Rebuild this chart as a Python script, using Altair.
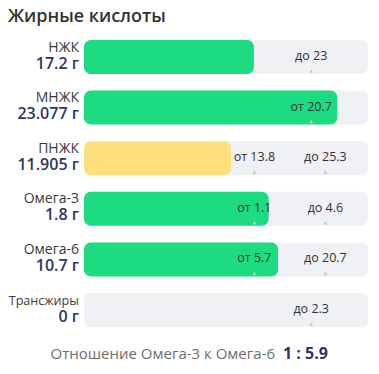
import altair as alt
import pandas as pd

# ---- data ----
names = ["НЖК", "МНЖК", "ПНЖК", "Омега-3", "Омега-6", "Трансжиры"]
amounts = [17.2, 23.077, 11.905, 1.8, 10.7, 0]
amount_labels = ["17.2 г", "23.077 г", "11.905 г", "1.8 г", "10.7 г", "0 г"]
norm_min = [None, 20.7, 13.8, 1.1, 5.7, None]
norm_max = [23, None, 25.3, 4.6, 20.7, 2.3]
status = ["норма", "норма", "ниже нормы", "норма", "норма", "норма"]
title_text = "Жирные кислоты"
ratio_label = "Отношение Омега-3 к Омега-6"

FONT = "Open Sans"
GREEN = "#1ddb80"
YELLOW = "#fde07b"
TRACK = "#f0f1f4"
NAVY = "#2f3563"


def rel(v, lo, hi):
    """position of value v on the relative 0..1 track"""
    if lo is not None and hi is not None:
        if v <= lo:
            return v / lo * 0.6
        return min(1.0, 0.6 + (v - lo) / (hi - lo) * 0.25)
    ref = lo if lo is not None else hi
    return min(1.0, v / ref * 0.8)


rows = []
ticks = []
for n, a, al, lo, hi, s in zip(names, amounts, amount_labels, norm_min, norm_max, status):
    rows.append({"name": n, "amount": a, "label": al, "status": s,
                 "fill": rel(a, lo, hi), "start": 0.0, "end": 1.0})
    if lo is not None:
        ticks.append({"name": n, "pos": rel(lo, lo, hi), "text": f"от {lo:g}"})
    if hi is not None:
        ticks.append({"name": n, "pos": rel(hi, lo, hi), "text": f"до {hi:g}"})

df = pd.DataFrame(rows)
tk = pd.DataFrame(ticks)

ratio_value = f"1 : {amounts[names.index('Омега-6')] / amounts[names.index('Омега-3')]:.1f}"

W, H = 363, 358
xs = alt.Scale(domain=[0, 1], range=[76, 360])
ys = alt.Scale(domain=names, range=[23.7, 327.3], paddingInner=0, paddingOuter=0)
Y = alt.Y("name:N", scale=ys, axis=None)
X = alt.X("start:Q", scale=xs, axis=None)

track = alt.Chart(df).mark_bar(size=34, cornerRadius=7, color=TRACK).encode(
    y=Y, x=X, x2="end:Q")

fill = alt.Chart(df).transform_filter("datum.fill > 0").mark_bar(size=34, cornerRadius=7).encode(
    y=Y, x=X, x2="fill:Q",
    color=alt.Color("status:N", scale=alt.Scale(domain=["норма", "ниже нормы"],
                                                  range=[GREEN, YELLOW]), legend=None))

markers = alt.Chart(tk).mark_point(shape="triangle-up", size=16, filled=True,
                                   color="#c4c6cc", opacity=1, yOffset=14).encode(
    y=Y, x=alt.X("pos:Q", scale=xs, axis=None))

tick_text = alt.Chart(tk).mark_text(font=FONT, fontSize=12.5, color="#333333",
                                    baseline="middle", yOffset=-1).encode(
    y=Y, x=alt.X("pos:Q", scale=xs, axis=None), text="text:N")

name_text = alt.Chart(df).mark_text(font=FONT, color="#3a3a3a", align="right",
                                    baseline="middle", yOffset=-9.5).encode(
    y=Y, x=alt.value(71), text="name:N",
    size=alt.condition("length(datum.name) > 8", alt.value(12.6), alt.value(14)))

value_text = alt.Chart(df).mark_text(font=FONT, fontSize=16, fontWeight=600, color=NAVY,
                                     align="right", baseline="middle", yOffset=6.5).encode(
    y=Y, x=alt.value(71), text="label:N")

title = alt.Chart(pd.DataFrame({"t": [title_text]})).mark_text(
    font=FONT, fontSize=18, fontWeight=600, color="#333333", align="left", baseline="alphabetic").encode(
    x=alt.value(0), y=alt.value(14), text="t:N")

ratio = alt.Chart(pd.DataFrame({"t": [ratio_label]})).mark_text(
    font=FONT, fontSize=15, color="#6e6e6e", align="right", baseline="middle").encode(
    x=alt.value(267), y=alt.value(346), text="t:N")

ratio_v = alt.Chart(pd.DataFrame({"t": [ratio_value]})).mark_text(
    font=FONT, fontSize=16, fontWeight=700, color=NAVY, align="left", baseline="middle").encode(
    x=alt.value(275), y=alt.value(346), text="t:N")

chart = alt.layer(track, fill, markers, tick_text, name_text, value_text, title, ratio, ratio_v).properties(
    width=W, height=H, autosize=alt.AutoSizeParams(type="none"), padding=0
).configure_view(strokeWidth=0)

chart.save("out.html", embed_options={"renderer": "svg", "actions": False})
